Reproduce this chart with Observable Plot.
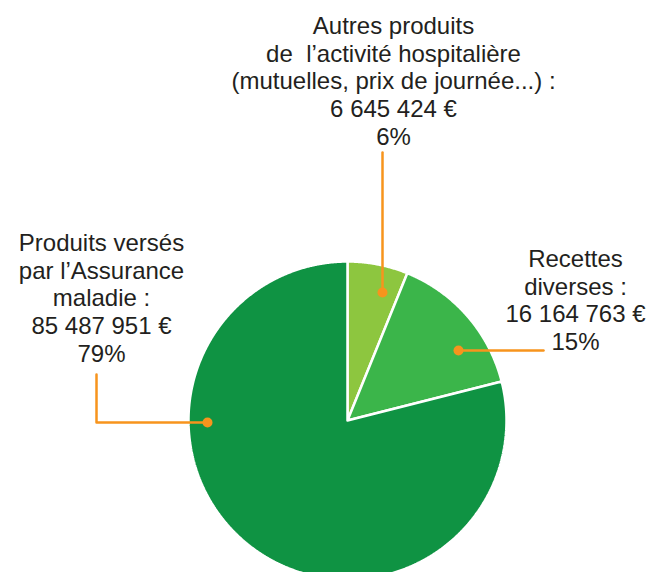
<!DOCTYPE html>
<html>
<head>
<meta charset="utf-8">
<script src="https://cdn.jsdelivr.net/npm/d3@7"></script>
<script src="https://cdn.jsdelivr.net/npm/@observablehq/plot@0.6"></script>
<style>
html, body { margin: 0; padding: 0; background: #fff; overflow: hidden; }
#chart svg { display: block; }
</style>
</head>
<body>
<div id="chart"></div>
<script>
// ---- Data ----
const categories = [
  "Autres produits de l’activité hospitalière",
  "Recettes diverses",
  "Produits versés par l’Assurance maladie"
];
const nameLines = [
  ["Autres produits", "de  l’activité hospitalière", "(mutuelles, prix de journée...) :"],
  ["Recettes", "diverses :"],
  ["Produits versés", "par l’Assurance", "maladie :"]
];
const amounts = [6645424, 16164763, 85487951];
const percentLabels = ["6%", "15%", "79%"];
const sliceColors = ["#8dc63f", "#3bb54a", "#0f9343"];

// ---- Layout (pixels) ----
const W = 648, H = 572;
const CX = 347, CY = 420, R = 159;
const labelPos = [[393, 80], [575, 299], [101, 297]];
const leaderPaths = [
  [[382, 152], [382, 292]],
  [[458, 350], [543, 350]],
  [[96, 374], [96, 422], [207, 422]]
];
const dotPos = [[382, 292], [458, 350], [207, 422]];

// ---- Build pie polygons ----
const fmt = n => d3.format(",")(n).replace(/,/g, " ");
const pie = d3.pie().sort(null).value(d => d)(amounts);
const slicePts = [];
pie.forEach((a, i) => {
  const cat = categories[i];
  slicePts.push({cat, x: CX, y: CY});
  const steps = Math.max(2, Math.ceil((a.endAngle - a.startAngle) / 0.005));
  for (let k = 0; k <= steps; k++) {
    const t = a.startAngle + (a.endAngle - a.startAngle) * k / steps;
    slicePts.push({cat, x: CX + R * Math.sin(t), y: CY - R * Math.cos(t)});
  }
  slicePts.push({cat, x: CX, y: CY});
});

const labels = categories.map((c, i) => ({
  x: labelPos[i][0], y: labelPos[i][1],
  text: [...nameLines[i], fmt(amounts[i]) + " €", percentLabels[i]].join("\n")
}));

const leaderPts = leaderPaths.flatMap((p, i) => p.map(([x, y]) => ({id: i, x, y})));
const dots = dotPos.map(([x, y]) => ({x, y}));

const chart = Plot.plot({
  width: W, height: H,
  margin: 0,
  x: {domain: [0, W], range: [0, W], axis: null},
  y: {domain: [0, H], range: [0, H], axis: null},
  color: {domain: categories, range: sliceColors},
  style: {background: "#fff"},
  marks: [
    Plot.line(slicePts, {x: "x", y: "y", z: "cat", fill: "cat", stroke: "#fff", strokeWidth: 2.5, strokeLinejoin: "miter", curve: "linear"}),
    Plot.line(leaderPts, {x: "x", y: "y", z: "id", stroke: "#f7941d", strokeWidth: 2.5}),
    Plot.dot(dots, {x: "x", y: "y", r: 5, fill: "#f7941d"}),
    Plot.text(labels, {x: "x", y: "y", text: "text", fontSize: 24, lineHeight: 1.16,
      fill: "#231f20", fontFamily: "'Liberation Sans', Arial, Helvetica, sans-serif"})
  ]
});
document.getElementById("chart").appendChild(chart);
</script>
</body>
</html>
